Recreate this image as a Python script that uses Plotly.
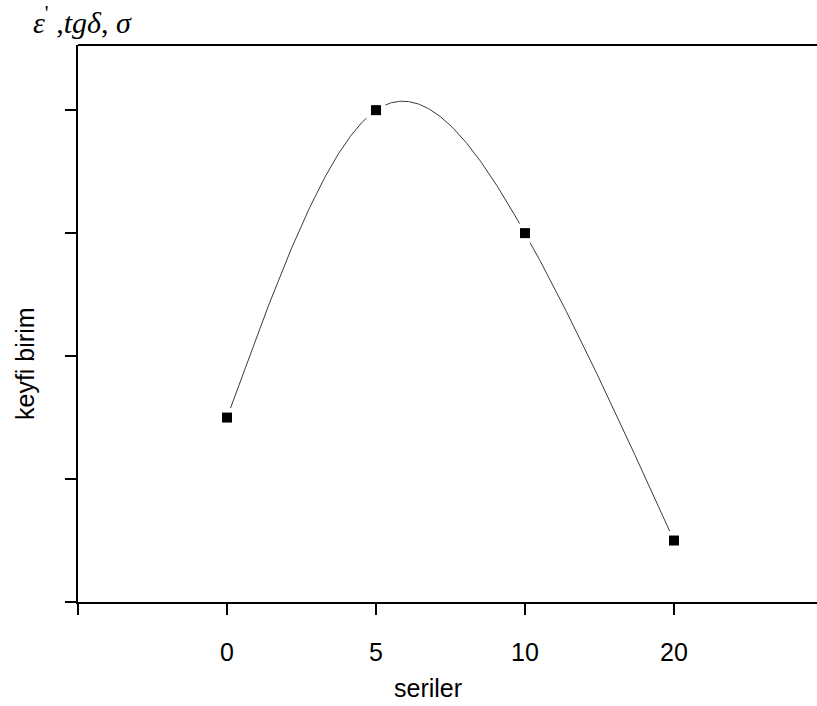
import numpy as np
import plotly.graph_objects as go

# Series labels and relative (arbitrary-unit) values
series = ["0", "5", "10", "20"]
values = [1.5, 4.0, 3.0, 0.5]
y_ticks = [0, 1, 2, 3, 4]


def natural_spline(xs, ys, n=400):
    """Natural cubic spline through the given points."""
    xs = np.asarray(xs, float)
    ys = np.asarray(ys, float)
    k = len(xs)
    h = np.diff(xs)
    A = np.zeros((k, k))
    b = np.zeros(k)
    A[0, 0] = A[-1, -1] = 1.0
    for i in range(1, k - 1):
        A[i, i - 1] = h[i - 1]
        A[i, i] = 2 * (h[i - 1] + h[i])
        A[i, i + 1] = h[i]
        b[i] = 6 * ((ys[i + 1] - ys[i]) / h[i] - (ys[i] - ys[i - 1]) / h[i - 1])
    M = np.linalg.solve(A, b)
    xf = np.linspace(xs[0], xs[-1], n)
    yf = np.empty_like(xf)
    for j, x in enumerate(xf):
        i = min(np.searchsorted(xs, x, side="right") - 1, k - 2)
        t0 = xs[i + 1] - x
        t1 = x - xs[i]
        yf[j] = (M[i] * t0 ** 3 / (6 * h[i]) + M[i + 1] * t1 ** 3 / (6 * h[i])
                 + (ys[i] / h[i] - M[i] * h[i] / 6) * t0
                 + (ys[i + 1] / h[i] - M[i + 1] * h[i] / 6) * t1)
    return xf, yf


pos = list(range(len(series)))
xf, yf = natural_spline(pos, values)

fig = go.Figure()
# smooth curve
fig.add_trace(go.Scatter(x=xf, y=yf, mode="lines",
                         line=dict(color="#3a3a3a", width=1), hoverinfo="skip"))
# white halo so the curve breaks around each marker
fig.add_trace(go.Scatter(x=pos, y=values, mode="markers",
                         marker=dict(symbol="square", size=19, color="white"),
                         hoverinfo="skip"))
# data points
fig.add_trace(go.Scatter(x=pos, y=values, mode="markers",
                         marker=dict(symbol="square", size=10, color="black")))

fig.update_layout(
    width=817, height=706,
    margin=dict(l=78, r=0, t=45, b=104),
    paper_bgcolor="white", plot_bgcolor="white",
    showlegend=False,
    font=dict(family="Liberation Sans, Arial", color="black"),
    xaxis=dict(
        range=[-1.0, 3.96],
        tickvals=[-1] + pos, ticktext=[""] + series,
        ticks="outside", ticklen=11, tickwidth=2, tickcolor="black",
        ticklabelstandoff=16,
        showline=True, linewidth=2, linecolor="black",
        showgrid=False, zeroline=False,
        tickfont=dict(size=25, family="Liberation Sans, Arial"),
    ),
    yaxis=dict(
        range=[0, 4.53],
        tickvals=y_ticks, showticklabels=False,
        ticks="outside", ticklen=11, tickwidth=2, tickcolor="black",
        showline=True, linewidth=2, linecolor="black",
        showgrid=False, zeroline=False,
    ),
    shapes=[dict(type="line", xref="paper", yref="paper", x0=0, x1=1, y0=1, y1=1,
                 line=dict(color="black", width=2))],
    annotations=[
        dict(text="seriler", xref="paper", yref="paper", x=(428 - 78) / 739, y=-86 / 557,
             xanchor="center", yanchor="middle", showarrow=False,
             font=dict(size=25, family="Liberation Sans, Arial")),
        dict(text="keyfi birim", xref="paper", yref="paper", x=-53 / 739, y=(602 - 364) / 557,
             xanchor="center", yanchor="middle", textangle=-90, showarrow=False,
             font=dict(size=25, family="Liberation Sans, Arial")),
        dict(text="<i>ε</i><sup>'</sup> ,<i>tgδ</i>, <i>σ</i>", xref="paper", yref="paper",
             x=-47 / 739, y=1 + 25 / 557, xanchor="left", yanchor="middle", showarrow=False,
             font=dict(size=30, family="Liberation Serif, Times New Roman")),
    ],
)

fig.write_html("out.html")
